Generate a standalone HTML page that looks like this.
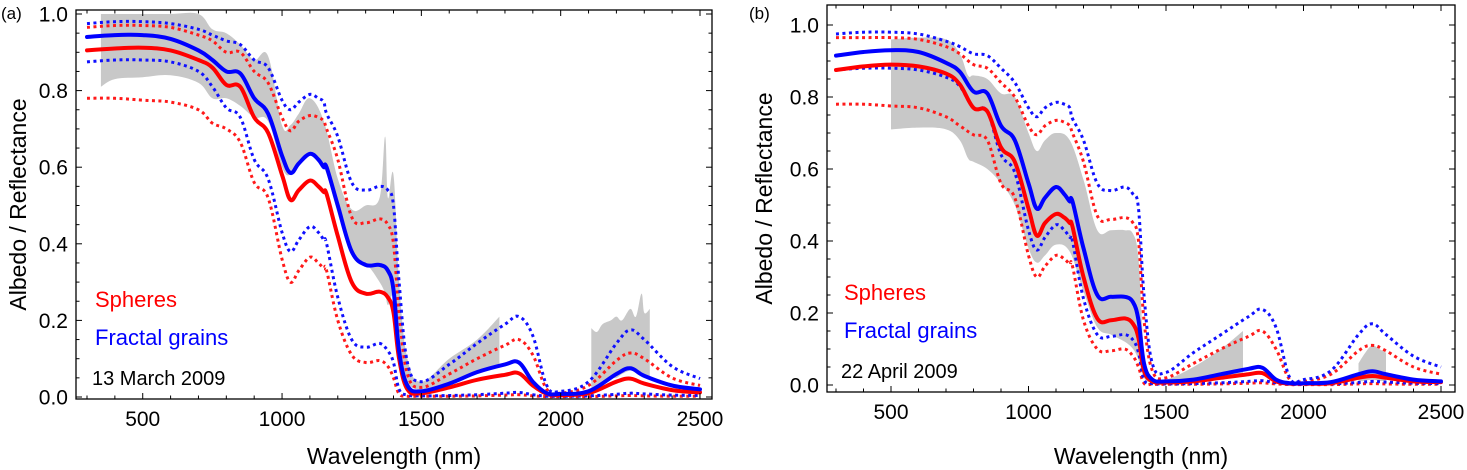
<!DOCTYPE html>
<html><head><meta charset="utf-8">
<style>
html,body{margin:0;padding:0;background:#fff;}
svg{display:block;font-family:"Liberation Sans Narrow","Liberation Sans",sans-serif;}
</style></head>
<body>
<svg id="chart" width="1467" height="470" viewBox="0 0 1467 470" xmlns="http://www.w3.org/2000/svg"></svg>
<script>
// Shared wavelength grid (nm)
const wl = [300,400,500,600,700,750,800,850,900,950,1000,1030,1060,1100,1130,1150,1160,1200,1250,1300,1350,1380,1400,1420,1450,1500,1600,1700,1800,1850,1900,1950,2000,2100,2200,2250,2300,2400,2500];

// Panel (a) — 13 March 2009
const aBlue = [0.94,0.945,0.945,0.935,0.905,0.88,0.85,0.845,0.78,0.74,0.63,0.585,0.61,0.635,0.62,0.60,0.60,0.50,0.38,0.345,0.345,0.33,0.28,0.12,0.03,0.015,0.035,0.065,0.085,0.09,0.04,0.01,0.008,0.015,0.06,0.075,0.055,0.03,0.02];
const aRed = [0.905,0.91,0.912,0.905,0.88,0.86,0.815,0.81,0.73,0.69,0.58,0.515,0.54,0.565,0.55,0.535,0.53,0.42,0.30,0.27,0.275,0.26,0.22,0.10,0.02,0.01,0.025,0.045,0.058,0.062,0.03,0.008,0.005,0.01,0.04,0.048,0.035,0.018,0.012];
const aBlueHi = [0.975,0.98,0.98,0.975,0.96,0.945,0.93,0.92,0.88,0.86,0.775,0.75,0.77,0.79,0.78,0.77,0.74,0.68,0.56,0.54,0.55,0.54,0.50,0.30,0.09,0.04,0.085,0.14,0.19,0.21,0.16,0.03,0.015,0.04,0.14,0.175,0.15,0.08,0.048];
const aRedHi = [0.965,0.97,0.97,0.965,0.945,0.93,0.90,0.90,0.85,0.82,0.73,0.695,0.72,0.735,0.73,0.72,0.70,0.62,0.47,0.455,0.465,0.45,0.40,0.22,0.06,0.025,0.06,0.10,0.135,0.15,0.11,0.02,0.01,0.03,0.095,0.115,0.10,0.05,0.03];
const aBlueLo = [0.875,0.88,0.88,0.875,0.85,0.81,0.755,0.73,0.62,0.57,0.43,0.38,0.41,0.445,0.43,0.41,0.40,0.26,0.15,0.13,0.14,0.12,0.09,0.02,0.005,0.003,0.004,0.006,0.01,0.012,0.006,0.002,0.002,0.003,0.007,0.01,0.008,0.005,0.004];
const aRedLo = [0.78,0.78,0.775,0.77,0.75,0.715,0.70,0.665,0.56,0.52,0.36,0.30,0.33,0.365,0.35,0.335,0.33,0.20,0.11,0.09,0.095,0.08,0.05,0.008,0.002,0.002,0.002,0.003,0.005,0.006,0.003,0.001,0.001,0.001,0.003,0.004,0.003,0.002,0.002];
const aBandWl = [350,400,500,600,700,750,800,850,900,950,1000,1030,1060,1100,1150,1200,1250,1300,1350,1370,1380,1400,1420,1450,1500,1600,1700,1780];
const aBandHi = [1.0,1.0,1.0,1.0,1.0,0.96,0.95,0.92,0.88,0.89,0.71,0.71,0.74,0.78,0.72,0.57,0.49,0.50,0.52,0.68,0.52,0.58,0.30,0.10,0.04,0.10,0.15,0.21];
const aBandLo = [0.81,0.83,0.835,0.84,0.82,0.78,0.78,0.76,0.73,0.72,0.60,0.58,0.61,0.63,0.60,0.48,0.37,0.35,0.30,0.27,0.24,0.26,0.12,0.04,0.02,0.04,0.06,0.08];
const aBand2Wl = [2110,2130,2150,2180,2200,2220,2250,2270,2290,2300,2320];
const aBand2Hi = [0.18,0.17,0.19,0.20,0.21,0.20,0.23,0.21,0.27,0.22,0.23];
const aBand2Lo = [0.02,0.03,0.04,0.05,0.05,0.06,0.07,0.07,0.06,0.06,0.05];

// Panel (b) — 22 April 2009
const bBlue = [0.915,0.925,0.93,0.925,0.895,0.87,0.815,0.81,0.72,0.68,0.56,0.49,0.52,0.55,0.53,0.51,0.51,0.38,0.25,0.245,0.245,0.23,0.18,0.06,0.015,0.01,0.015,0.03,0.045,0.048,0.015,0.005,0.005,0.008,0.03,0.038,0.03,0.015,0.01];
const bRed = [0.875,0.885,0.89,0.885,0.865,0.835,0.77,0.76,0.66,0.62,0.49,0.415,0.45,0.475,0.465,0.45,0.44,0.30,0.185,0.18,0.185,0.17,0.13,0.04,0.01,0.007,0.01,0.02,0.03,0.033,0.01,0.004,0.004,0.005,0.02,0.025,0.02,0.01,0.008];
const bBlueHi = [0.975,0.98,0.98,0.975,0.955,0.94,0.92,0.915,0.88,0.84,0.77,0.745,0.77,0.785,0.78,0.77,0.74,0.68,0.56,0.54,0.55,0.53,0.49,0.25,0.06,0.035,0.09,0.14,0.19,0.21,0.16,0.02,0.015,0.04,0.14,0.17,0.14,0.08,0.05];
const bRedHi = [0.965,0.965,0.965,0.96,0.94,0.92,0.89,0.88,0.84,0.80,0.72,0.695,0.72,0.735,0.73,0.72,0.70,0.62,0.47,0.46,0.465,0.45,0.40,0.18,0.04,0.02,0.06,0.10,0.135,0.15,0.10,0.015,0.01,0.03,0.095,0.11,0.095,0.05,0.03];
const bBlueLo = [0.875,0.88,0.88,0.875,0.855,0.83,0.77,0.76,0.64,0.59,0.43,0.375,0.41,0.445,0.43,0.41,0.40,0.24,0.14,0.135,0.14,0.125,0.09,0.015,0.004,0.003,0.004,0.006,0.01,0.012,0.006,0.002,0.002,0.003,0.007,0.01,0.008,0.005,0.004];
const bRedLo = [0.78,0.78,0.775,0.77,0.745,0.72,0.695,0.68,0.56,0.52,0.36,0.30,0.33,0.36,0.35,0.335,0.33,0.18,0.10,0.095,0.10,0.08,0.05,0.005,0.002,0.002,0.002,0.003,0.005,0.006,0.003,0.001,0.001,0.001,0.003,0.004,0.003,0.002,0.002];
const bBandWl = [500,600,700,750,780,800,850,900,950,1000,1030,1060,1100,1150,1200,1250,1300,1350,1380,1400,1420,1450,1500,1600,1700,1780];
const bBandHi = [0.96,0.965,0.96,0.92,0.86,0.86,0.85,0.81,0.80,0.70,0.65,0.68,0.70,0.68,0.57,0.43,0.43,0.43,0.42,0.35,0.10,0.02,0.015,0.05,0.10,0.15];
const bBandLo = [0.71,0.715,0.71,0.68,0.63,0.62,0.60,0.56,0.50,0.38,0.34,0.36,0.39,0.37,0.26,0.16,0.14,0.12,0.10,0.07,0.02,0.005,0.005,0.01,0.02,0.03];
const bBand2Wl = [2200,2225,2250,2275,2300];
const bBand2Hi = [0.06,0.09,0.11,0.10,0.09];
const bBand2Lo = [0.01,0.012,0.015,0.012,0.01];

const xTicks = [500,1000,1500,2000,2500];
const yTicks = [0,0.2,0.4,0.6,0.8,1.0];
const yTickLabels = ["0.0","0.2","0.4","0.6","0.8","1.0"];

const NS = "http://www.w3.org/2000/svg";
const svg = document.getElementById('chart');
function mk(tag, attrs, parent){
  const e = document.createElementNS(NS, tag);
  for (const k in attrs) e.setAttribute(k, attrs[k]);
  (parent||svg).appendChild(e);
  return e;
}
// Smooth path through points (Catmull-Rom -> cubic Bezier), with optional leading move
function smooth(pts, start){
  let d = start ? ('M' + pts[0][0].toFixed(1) + ',' + pts[0][1].toFixed(1)) : ('L' + pts[0][0].toFixed(1) + ',' + pts[0][1].toFixed(1));
  const t = 0.18;
  for (let i = 0; i < pts.length - 1; i++){
    const p0 = pts[Math.max(0,i-1)], p1 = pts[i], p2 = pts[i+1], p3 = pts[Math.min(pts.length-1,i+2)];
    const c1x = p1[0] + (p2[0]-p0[0])*t, c1y = p1[1] + (p2[1]-p0[1])*t;
    const c2x = p2[0] - (p3[0]-p1[0])*t, c2y = p2[1] - (p3[1]-p1[1])*t;
    d += 'C' + c1x.toFixed(1) + ',' + c1y.toFixed(1) + ' ' + c2x.toFixed(1) + ',' + c2y.toFixed(1) + ' ' + p2[0].toFixed(1) + ',' + p2[1].toFixed(1);
  }
  return d;
}

function drawPanel(P, prefix){
  const g = mk('g', {});
  
  
  const X = v => P.x0 + (v - 300) / 2200 * (P.x2500 - P.x0);
  const Y = v => P.y0 - v * (P.y0 - P.y1);
  const clip = mk('clipPath', {id: prefix + '-clip'}, g);
  mk('rect', {x: P.fl, y: P.ft, width: P.fr - P.fl, height: P.fb - P.ft}, clip);
  const plot = mk('g', {'clip-path': 'url(#' + prefix + '-clip)'}, g);

  function band(ws, hi, lo, name){
    const top = ws.map((w,i)=>[X(w), Y(hi[i])]);
    const bot = ws.map((w,i)=>[X(w), Y(lo[i])]).reverse();
    const d = smooth(top, true) + smooth(bot, false) + 'Z';
    const p = mk('path', {d: d, fill: '#c8c8c8', stroke: 'none'}, plot);
    
    
  }
  function line(vals, color, dotted, name){
    const d = smooth(wl.map((w,i)=>[X(w), Y(vals[i])]), true);
    const a = {d: d, fill: 'none', stroke: color, 'stroke-linejoin': 'round'};
    if (dotted){ a['stroke-width'] = 3; a['stroke-dasharray'] = '3 3.5'; }
    else { a['stroke-width'] = 4; a['stroke-linecap'] = 'round'; }
    const p = mk('path', a, plot);
    
    
  }
  band(P.bandWl, P.bandHi, P.bandLo, prefix + '-observed-range');
  band(P.band2Wl, P.band2Hi, P.band2Lo, prefix + '-observed-range-2');
  line(P.redLo, '#ff1a1a', true, prefix + '-spheres-lower');
  line(P.blueLo, '#1010ff', true, prefix + '-fractal-lower');
  line(P.redHi, '#ff1a1a', true, prefix + '-spheres-upper');
  line(P.blueHi, '#1010ff', true, prefix + '-fractal-upper');
  line(P.red, '#ff0000', false, prefix + '-spheres-line');
  line(P.blue, '#0000ff', false, prefix + '-fractal-line');

  const fr = mk('rect', {x: P.fl, y: P.ft, width: P.fr - P.fl, height: P.fb - P.ft, fill: 'none', stroke: '#000', 'stroke-width': 1.3}, g);
  
  
  const tk = mk('g', {stroke: '#000', 'stroke-width': 1}, g);
  for (let w = 300; w <= 2500; w += 100){
    const x = X(w), L = (w % 500 === 0) ? 6 : 3.5;
    mk('line', {x1: x, y1: P.fb, x2: x, y2: P.fb - L}, tk);
    mk('line', {x1: x, y1: P.ft, x2: x, y2: P.ft + L}, tk);
  }
  for (let k = 0; k <= 20; k++){
    const v = k * 0.05, y = Y(v);
    if (y < P.ft - 0.5) continue;
    const L = (k % 4 === 0) ? 6 : 3.5;
    mk('line', {x1: P.fl, y1: y, x2: P.fl + L, y2: y}, tk);
    mk('line', {x1: P.fr, y1: y, x2: P.fr - L, y2: y}, tk);
  }
  xTicks.forEach(w=>{
    const t = mk('text', {x: X(w), y: P.fb + 27, 'text-anchor': 'middle', 'font-size': 21, fill: '#000'}, g);
    t.textContent = w;
    
    
  });
  yTicks.forEach((v,i)=>{
    const t = mk('text', {x: P.fl - 8, y: Y(v) + 7.5, 'text-anchor': 'end', 'font-size': 21, fill: '#000'}, g);
    t.textContent = yTickLabels[i];
    
    
  });
  const xt = mk('text', {x: (P.fl + P.fr)/2, y: 464, 'text-anchor': 'middle', 'font-size': 23, fill: '#000'}, g);
  xt.textContent = 'Wavelength (nm)';
  
  
  const yt = mk('text', {x: 0, y: 0, 'text-anchor': 'middle', 'font-size': 23, fill: '#000', transform: 'translate(' + P.ytx + ',' + ((P.ft+P.fb)/2) + ') rotate(-90)'}, g);
  yt.textContent = 'Albedo / Reflectance';
  
  
  const pl = mk('text', {x: P.lx, y: 19, 'font-size': 17, fill: '#000'}, g);
  pl.textContent = P.label;
  
  
  const l1 = mk('text', {x: P.legx, y: P.legy, 'font-size': 22, fill: '#ff0000'}, g);
  l1.textContent = 'Spheres';
  
  
  const l2 = mk('text', {x: P.legx, y: P.legy + 38, 'font-size': 22, fill: '#0000ff'}, g);
  l2.textContent = 'Fractal grains';
  
  
  const l3 = mk('text', {x: P.legx - 3, y: P.legy + 78, 'font-size': 20, fill: '#000'}, g);
  l3.textContent = P.date;
  
  
}

drawPanel({fl:76, fr:712, ft:10, fb:399, x0:87, x2500:700, y0:397, y1:14,
  ytx:26, lx:1, label:'(a)', legx:95, legy:307, date:'13 March 2009',
  red:aRed, blue:aBlue, redHi:aRedHi, blueHi:aBlueHi, redLo:aRedLo, blueLo:aBlueLo,
  bandWl:aBandWl, bandHi:aBandHi, bandLo:aBandLo, band2Wl:aBand2Wl, band2Hi:aBand2Hi, band2Lo:aBand2Lo}, 'a');
drawPanel({fl:827, fr:1455, ft:5, fb:392, x0:836, x2500:1441, y0:385, y1:25,
  ytx:772, lx:749, label:'(b)', legx:844, legy:300, date:'22 April 2009',
  red:bRed, blue:bBlue, redHi:bRedHi, blueHi:bBlueHi, redLo:bRedLo, blueLo:bBlueLo,
  bandWl:bBandWl, bandHi:bBandHi, bandLo:bBandLo, band2Wl:bBand2Wl, band2Hi:bBand2Hi, band2Lo:bBand2Lo}, 'b');
</script>
</body></html>
